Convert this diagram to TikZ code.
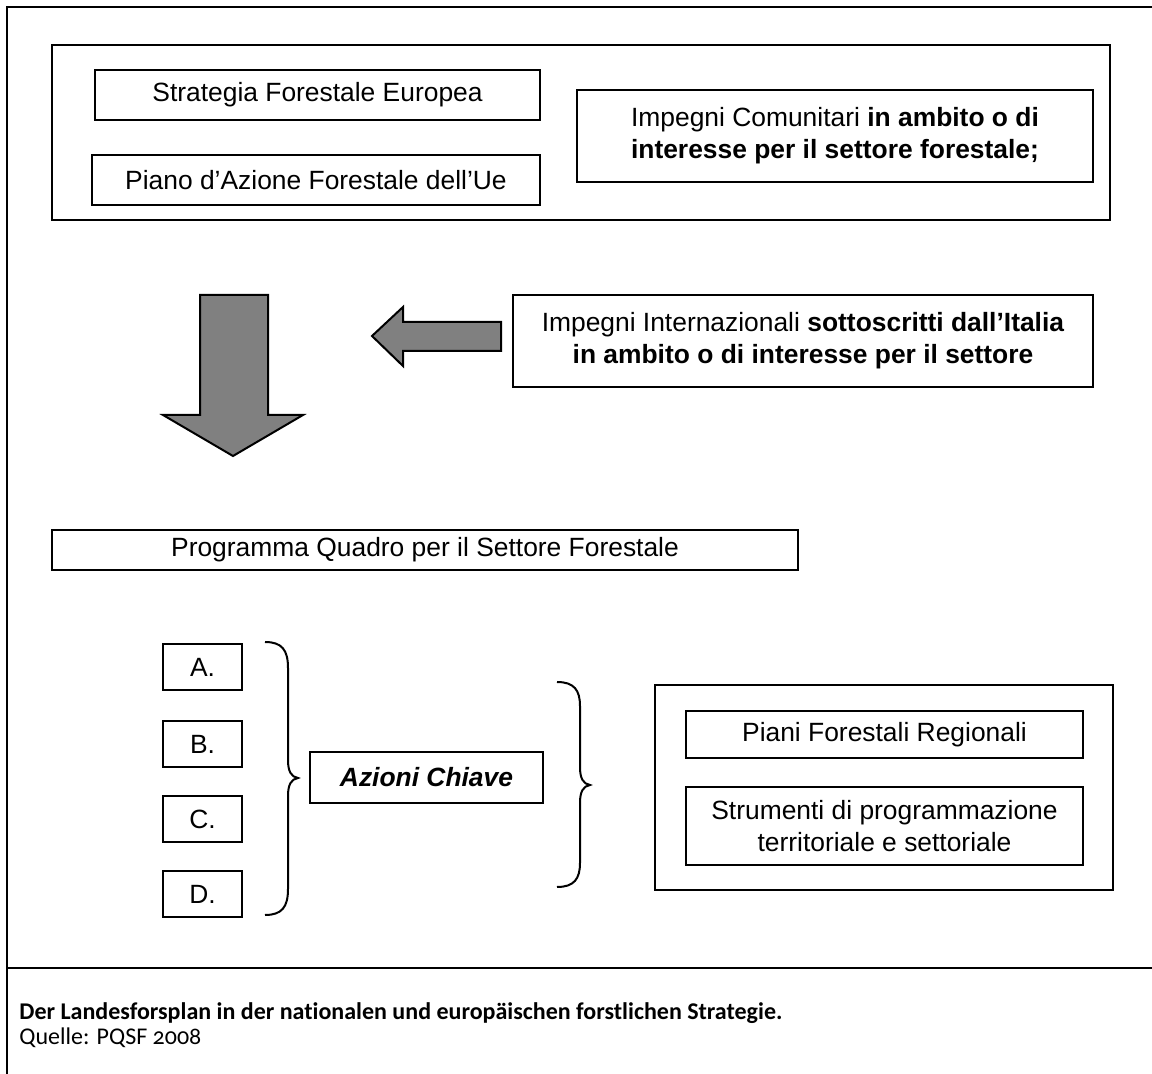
\documentclass[tikz,border=0pt]{standalone}
\usepackage{fontspec}
\setmainfont{Liberation Sans}
\newfontfamily\capfont[Numbers=OldStyle, Ligatures=NoCommon]{Carlito}
\usepackage{tikz}
\usetikzlibrary{positioning, calc}

\begin{document}
\begin{tikzpicture}[
		x=0.5pt, y=-0.5pt,
		font=\fontsize{13.2}{16}\selectfont,
		box/.style={draw, line width=1pt, align=center, fill=white, inner sep=0pt},
		panel/.style={draw, line width=1pt, inner sep=0pt},
		blockarrow/.style={draw, line width=1pt, fill=black!50, line join=miter},
		bracket/.style={draw, line width=1pt},
		caption/.style={font=\capfont\fontsize{12}{14}\selectfont, anchor=base west, inner sep=0pt}
		]
		\useasboundingbox (0,0) rectangle (1152,1074);
		
		% =========================================================
		% 1. Outer frame and caption strip
		% =========================================================
		\draw[line width=0.8pt] (7,1074) |- (1152,7);
		\draw[line width=1.4pt] (7,968) -- (1152,968);
		\node[caption] (CapTitle) at (19,1019) {\bfseries Der Landesforsplan in der nationalen und europäischen forstlichen Strategie.};
		\node[caption] (CapSource) at (19,1044) {Quelle: PQSF 2008};
		
		% =========================================================
		% 2. European level (top panel)
		% =========================================================
		\node[panel, minimum width=529pt, minimum height=87.5pt] (EuroPanel) at (581,132.5) {};
		\node[box, minimum width=222.5pt, minimum height=25pt] (Strategia) at (317.5,95) {Strategia Forestale Europea};
		\node[box, minimum width=224pt, minimum height=25pt] (PianoUe) at (316,180) {Piano d’Azione Forestale dell’Ue};
		\node[box, minimum width=258pt, minimum height=46pt] (Comunitari) at (835,136)
		{Impegni Comunitari \textbf{in ambito o di}\\\textbf{interesse per il settore forestale;}};
		
		% =========================================================
		% 3. International commitments and block arrows
		% =========================================================
		\node[box, minimum width=290pt, minimum height=46pt] (Internaz) at (803,341)
		{Impegni Internazionali \textbf{sottoscritti dall’Italia}\\\textbf{in ambito o di interesse per il settore}};
		
		% down arrow
		\draw[blockarrow] (200,295) -- (268,295) -- (268,415) -- (303,415) -- (233,456)
		-- (163,415) -- (200,415) -- cycle;
		% left arrow
		\draw[blockarrow] (501,322) -- (403,322) -- (403,307) -- (372,336) -- (403,366)
		-- (403,351) -- (501,351) -- cycle;
		
		% =========================================================
		% 4. National framework programme
		% =========================================================
		\node[box, minimum width=373pt, minimum height=20pt] (Programma) at (425,550) {Programma Quadro per il Settore Forestale};
		
		\foreach \lbl/\yy in {A/667, B/744, C/819, D/894} {
			\node[box, minimum width=39.5pt, minimum height=23pt] (Az\lbl) at (202.5,\yy) {\lbl.};
		}
		
		\node[box, minimum width=116.5pt, minimum height=25.5pt] (Chiave) at (426.5,777.5) {\textbf{\textit{Azioni Chiave}}};
		
		% braces
		\draw[bracket] (265,642) .. controls (282,642) and (288,650) .. (288,668) -- (288,760)
		.. controls (288,771) and (291,777) .. (298,778) .. controls (291,779) and (288,785) .. (288,796)
		-- (288,889) .. controls (288,907) and (282,915) .. (265,915);
		\draw[bracket] (557,682) .. controls (574,682) and (580,690) .. (580,706) -- (580,767)
		.. controls (580,778) and (583,784) .. (590,785) .. controls (583,786) and (580,792) .. (580,803)
		-- (580,863) .. controls (580,879) and (574,887) .. (557,887);
		
		% =========================================================
		% 5. Regional level
		% =========================================================
		\node[panel, minimum width=229pt, minimum height=102.5pt] (RegPanel) at (884,787.5) {};
		\node[box, minimum width=198.5pt, minimum height=23.5pt] (PianiReg) at (884.5,734.5) {Piani Forestali Regionali};
		\node[box, minimum width=198.5pt, minimum height=39pt] (Strumenti) at (884.5,826)
		{Strumenti di programmazione\\territoriale e settoriale};
	\end{tikzpicture}
\end{document}
